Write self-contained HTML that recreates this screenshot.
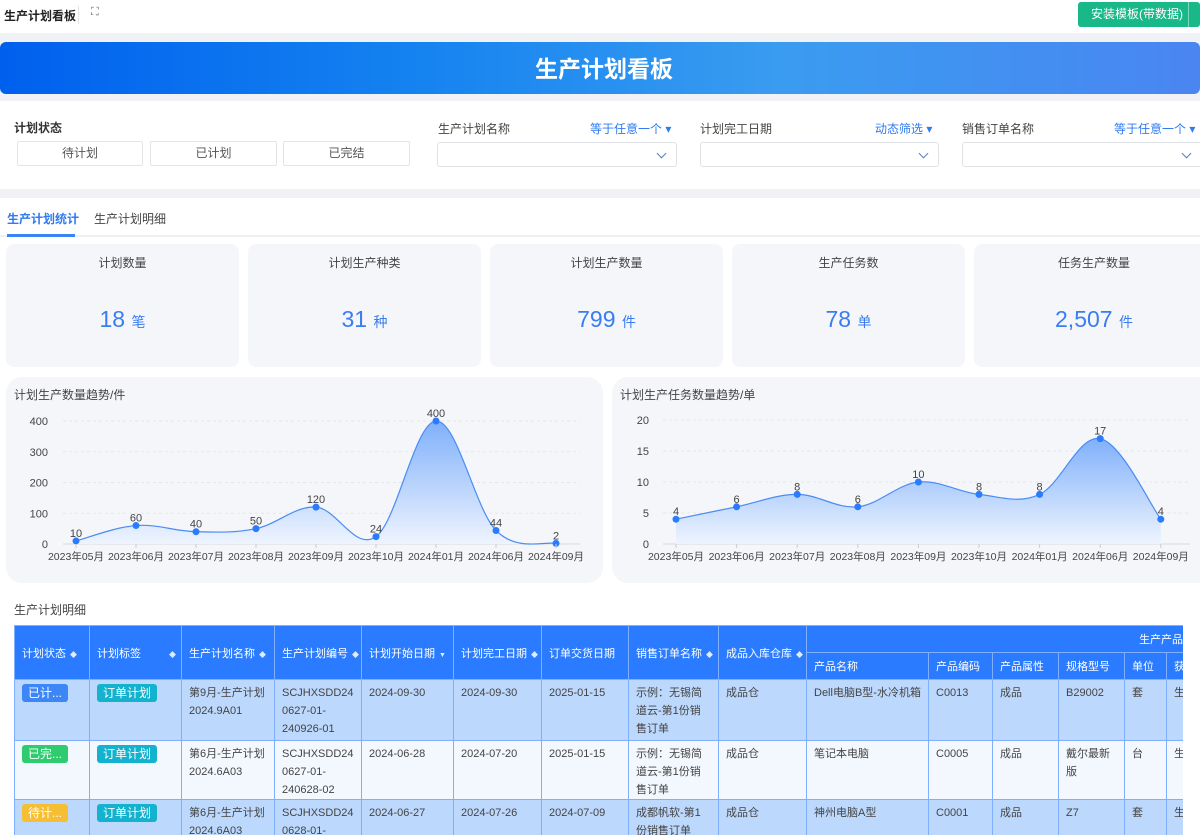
<!DOCTYPE html>
<html><head><meta charset="utf-8">
<style>
*{box-sizing:border-box;margin:0;padding:0}
body{width:1200px;height:835px;overflow:hidden;background:#fff;font-family:"Liberation Sans","Noto Sans CJK SC",sans-serif;color:#333;position:relative;font-size:12px}
.a{position:absolute}
.btn{position:absolute;top:141px;height:25px;border:1px solid #e2e4e8;border-radius:2px;background:#fff;text-align:center;line-height:23px;font-size:12px;color:#555}
.sel{position:absolute;top:142px;height:25px;border:1px solid #dfe2e6;border-radius:3px;background:#fff}
.sel:after{content:"";position:absolute;right:11px;top:7px;width:6px;height:6px;border-right:1px solid #5a7fc0;border-bottom:1px solid #5a7fc0;transform:rotate(45deg)}
.lab{position:absolute;top:120px;font-size:12px;color:#444}
.blu{position:absolute;top:120px;font-size:12px;color:#2f7bf0}
.card{position:absolute;top:244px;height:123px;background:#f4f6f9;border-radius:8px;text-align:center}
.card .t{margin-top:10px;font-size:12px;color:#444}
.card .v{margin-top:35px;font-size:23px;color:#3a7df0}
.card .v span{font-size:14px}
.panel{position:absolute;top:377px;height:206px;background:#f4f6f9;border-radius:16px}
table{position:absolute;left:14px;top:625px;width:1169px;border-collapse:collapse;table-layout:fixed;font-size:11px}
td,th{border:1px solid #7fb0ff;vertical-align:top;text-align:left;font-weight:normal;padding:0 7px;overflow:hidden;overflow-wrap:anywhere}
th{background:#2a7bff;color:#fff;vertical-align:middle;white-space:nowrap}
td div{overflow:hidden}
td.n{white-space:nowrap}
tr.r1 td{background:#bcd8fc;color:#444;padding-top:4px;line-height:18px}
tr.r2 td{background:#f3f8ff;color:#444;padding-top:4px;line-height:18px}
.tag{display:inline-block;color:#fff;border-radius:3px;padding:0 6px;line-height:18px;font-size:12px}
.s{font-size:7px;opacity:.85;margin-left:4px}
.wrap{position:absolute;left:0;top:0;width:1183px;height:835px;overflow:hidden}
</style></head><body>
<div class="a" style="left:4px;top:7px;font-size:12px;font-weight:bold;color:#222">生产计划看板</div>
<div class="a" style="left:78px;top:6px;width:1px;height:18px;background:#e5e5e5"></div>
<div class="a" style="left:91px;top:6px;font-size:11px;color:#666">⛶</div>
<div class="a" style="left:1078px;top:2px;width:122px;height:25px;background:#18b889;border-radius:3px;color:#fff;font-size:12px;line-height:25px;padding-left:13px">安装模板(带数据)</div>
<div class="a" style="left:1188px;top:2px;width:1px;height:25px;background:#7dd8bc"></div>
<div class="a" style="left:0;top:33px;width:1200px;height:165px;background:#f0f2f5"></div>
<div class="a" style="left:0;top:42px;width:1200px;height:52px;border-radius:6px;background:linear-gradient(90deg,#0060ee 0%,#1583f0 35%,#3a9cf0 65%,#4a85f2 100%)"></div>
<div class="a" style="left:0;top:50px;width:1208px;text-align:center;font-size:23px;font-weight:bold;color:#fff">生产计划看板</div>
<div class="a" style="left:0;top:101px;width:1200px;height:88px;background:#fff"></div>
<div class="a" style="left:14px;top:119px;font-size:12px;font-weight:bold;color:#333">计划状态</div>
<div class="btn" style="left:17px;width:126px">待计划</div>
<div class="btn" style="left:150px;width:127px">已计划</div>
<div class="btn" style="left:283px;width:127px">已完结</div>
<div class="lab" style="left:438px">生产计划名称</div><div class="blu" style="left:590px">等于任意一个 ▾</div>
<div class="lab" style="left:700px">计划完工日期</div><div class="blu" style="left:875px">动态筛选 ▾</div>
<div class="lab" style="left:962px">销售订单名称</div><div class="blu" style="left:1114px">等于任意一个 ▾</div>
<div class="sel" style="left:437px;width:240px"></div>
<div class="sel" style="left:700px;width:239px"></div>
<div class="sel" style="left:962px;width:240px"></div>
<div class="a" style="left:0;top:198px;width:1200px;height:637px;background:#fff"></div>
<div class="a" style="left:7px;top:210px;font-size:12px;font-weight:bold;color:#2f7bf0">生产计划统计</div>
<div class="a" style="left:94px;top:210px;font-size:12px;color:#444">生产计划明细</div>
<div class="a" style="left:0;top:235px;width:1200px;height:2px;background:#eef0f3"></div>
<div class="a" style="left:7px;top:234px;width:68px;height:3px;background:#3a85f5"></div>
<div class="card" style="left:6px;width:233px"><div class="t">计划数量</div><div class="v">18 <span>笔</span></div></div>
<div class="card" style="left:248px;width:233px"><div class="t">计划生产种类</div><div class="v">31 <span>种</span></div></div>
<div class="card" style="left:490px;width:233px"><div class="t">计划生产数量</div><div class="v">799 <span>件</span></div></div>
<div class="card" style="left:732px;width:233px"><div class="t">生产任务数</div><div class="v">78 <span>单</span></div></div>
<div class="card" style="left:974px;width:240px"><div class="t">任务生产数量</div><div class="v">2,507 <span>件</span></div></div>
<div class="panel" style="left:6px;width:597px"></div>
<div class="panel" style="left:612px;width:600px"></div>
<div class="a" style="left:14px;top:386px;font-size:12px;color:#444">计划生产数量趋势/件</div>
<div class="a" style="left:620px;top:386px;font-size:12px;color:#444">计划生产任务数量趋势/单</div>
<svg class="a" id="sv" style="left:0;top:0" width="1200" height="835" font-family="Liberation Sans, Noto Sans CJK SC, sans-serif"></svg>
<div class="a" style="left:14px;top:601px;font-size:12px;color:#444">生产计划明细</div>
<div class="wrap">
<table>
<colgroup><col style="width:75px"><col style="width:92px"><col style="width:93px"><col style="width:87px"><col style="width:92px"><col style="width:88px"><col style="width:87px"><col style="width:90px"><col style="width:88px"><col style="width:122px"><col style="width:64px"><col style="width:66px"><col style="width:66px"><col style="width:42px"><col style="width:17px"></colgroup>
<tr style="height:27px"><th rowspan="2">计划状态<span class="s">◆</span></th><th rowspan="2">计划标签<span class="s" style="margin-left:28px">◆</span></th><th rowspan="2">生产计划名称<span class="s">◆</span></th><th rowspan="2">生产计划编号<span class="s">◆</span></th><th rowspan="2">计划开始日期<span class="s">▼</span></th><th rowspan="2">计划完工日期<span class="s">◆</span></th><th rowspan="2">订单交货日期</th><th rowspan="2">销售订单名称<span class="s">◆</span></th><th rowspan="2">成品入库仓库<span class="s">◆</span></th><th colspan="6" style="text-align:right;padding-right:0">生产产品</th></tr>
<tr style="height:27px"><th>产品名称</th><th>产品编码</th><th>产品属性</th><th>规格型号</th><th>单位</th><th>获取</th></tr>
<tr class="r1"><td><div style="height:56px"><span class="tag" style="background:#3d86f5">已计...</span></div></td><td><span class="tag" style="background:#13b3cf">订单计划</span></td><td>第9月-生产计划2024.9A01</td><td>SCJHXSDD240627-01-240926-01</td><td>2024-09-30</td><td>2024-09-30</td><td>2025-01-15</td><td>示例：无锡简道云-第1份销售订单</td><td>成品仓</td><td>Dell电脑B型-水冷机箱</td><td>C0013</td><td>成品</td><td>B29002</td><td>套</td><td class="n">生产</td></tr>
<tr class="r2"><td><div style="height:54px"><span class="tag" style="background:#2ecb6f">已完...</span></div></td><td><span class="tag" style="background:#13b3cf">订单计划</span></td><td>第6月-生产计划2024.6A03</td><td>SCJHXSDD240627-01-240628-02</td><td>2024-06-28</td><td>2024-07-20</td><td>2025-01-15</td><td>示例：无锡简道云-第1份销售订单</td><td>成品仓</td><td>笔记本电脑</td><td>C0005</td><td>成品</td><td>戴尔最新版</td><td>台</td><td class="n">生产</td></tr>
<tr class="r1"><td><div style="height:56px"><span class="tag" style="background:#f6be33">待计...</span></div></td><td><span class="tag" style="background:#13b3cf">订单计划</span></td><td>第6月-生产计划2024.6A03</td><td>SCJHXSDD240628-01-</td><td>2024-06-27</td><td>2024-07-26</td><td>2024-07-09</td><td>成都帆软-第1份销售订单</td><td>成品仓</td><td>神州电脑A型</td><td>C0001</td><td>成品</td><td>Z7</td><td>套</td><td class="n">生产</td></tr>
</table>
</div>
<script>
var sv=document.getElementById('sv'),h='';
h+='<defs><linearGradient id="g" x1="0" y1="0" x2="0" y2="1"><stop offset="0" stop-color="#7fb0fb"/><stop offset="1" stop-color="#eef4fe"/></linearGradient></defs>';
function chart(x0,dx,y0,k,ymax,step,data,labX,gx1){
 for(var v=0;v<=ymax;v+=step){var y=y0-v*k;
  h+='<line x1="'+(x0-13)+'" x2="'+gx1+'" y1="'+y+'" y2="'+y+'" stroke="'+(v?'#e3e6ea':'#d8dbe0')+'" stroke-dasharray="'+(v?'3,3':'0')+'"/>';
  h+='<text x="'+labX+'" y="'+(y+4)+'" font-size="11" fill="#444" text-anchor="end">'+v+'</text>';}
 var P=data.map(function(d,i){return [x0+i*dx,y0-d*k]});
 var d='M'+P[0][0]+','+P[0][1];
 for(var i=0;i<P.length-1;i++){var p0=P[i-1]||P[i],p1=P[i],p2=P[i+1],p3=P[i+2]||P[i+1];var t=0.35;
  d+=' C'+(p1[0]+(p2[0]-p0[0])*t/2)+','+(p1[1]+(p2[1]-p0[1])*t/2)+' '+(p2[0]-(p3[0]-p1[0])*t/2)+','+(p2[1]-(p3[1]-p1[1])*t/2)+' '+p2[0]+','+p2[1];}
 h+='<path d="'+d+' L'+P[P.length-1][0]+','+y0+' L'+P[0][0]+','+y0+'Z" fill="url(#g)"/>';
 h+='<path d="'+d+'" fill="none" stroke="#4a8cf5" stroke-width="1.2"/>';
 var labs=['2023年05月','2023年06月','2023年07月','2023年08月','2023年09月','2023年10月','2024年01月','2024年06月','2024年09月'];
 P.forEach(function(p,i){h+='<circle cx="'+p[0]+'" cy="'+p[1]+'" r="3.5" fill="#2a7bff"/>';
  h+='<text x="'+p[0]+'" y="'+(p[1]-4)+'" font-size="11" fill="#444" text-anchor="middle">'+data[i]+'</text>';
  h+='<line x1="'+p[0]+'" x2="'+p[0]+'" y1="'+y0+'" y2="'+(y0+4)+'" stroke="#ccc"/>';
  h+='<text x="'+p[0]+'" y="'+(y0+16)+'" font-size="10.5" fill="#444" text-anchor="middle">'+labs[i]+'</text>';});
}
chart(76,60,544,123/400,400,100,[10,60,40,50,120,24,400,44,2],48,580);
chart(676,60.6,544,6.2,20,5,[4,6,8,6,10,8,8,17,4],649,1190);
sv.innerHTML=h;
</script>
</body></html>
